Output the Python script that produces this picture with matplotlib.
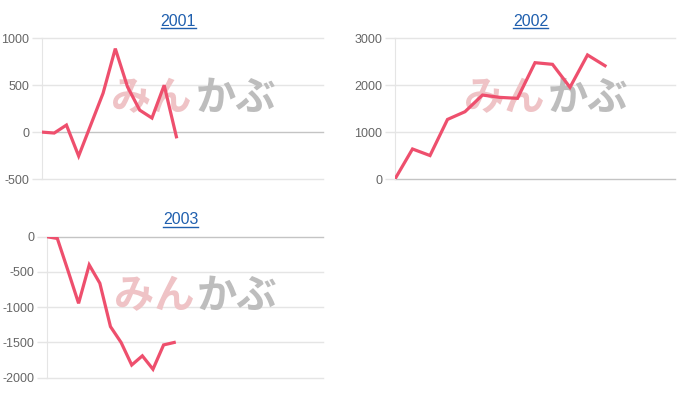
import matplotlib
matplotlib.use("Agg")
import matplotlib.pyplot as plt
from matplotlib.lines import Line2D

plt.rcParams['font.family'] = ['Liberation Sans', 'Noto Sans CJK JP', 'DejaVu Sans']

# data
years = ['2001', '2002', '2003']
values_2001 = [0, -10, 75, -255, 80, 415, 890, 482, 234, 150, 500, -50]
values_2002 = [0, 640, 500, 1270, 1435, 1790, 1740, 1720, 2480, 2445, 1955, 2645, 2415]
values_2003 = [0, -25, -480, -945, -400, -660, -1275, -1500, -1820, -1690, -1880, -1535, -1500]
ticks_2001 = [-500, 0, 500, 1000]
ticks_2002 = [0, 1000, 2000, 3000]
ticks_2003 = [-2000, -1500, -1000, -500, 0]
# number of category slots on each x axis
slots = [24, 17, 27]

line_color = '#ee4f6d'
grid_color = '#e5e5e5'
zero_color = '#c4c4c4'
label_color = '#666666'
title_color = '#1f5fae'

W, H = 700, 400
fig = plt.figure(figsize=(7, 4), dpi=100)
titles = []


def make_axes(left, right, top, bottom):
    return fig.add_axes([left / W, 1 - bottom / H, (right - left) / W, (bottom - top) / H])


def draw_panel(ax, title, values, ticks, n_slots):
    x = list(range(len(values)))
    ax.plot(x, values, color=line_color, lw=2.3, zorder=3, solid_joinstyle='miter')
    ax.set_xlim(0, n_slots - 1)
    ax.set_ylim(min(ticks), max(ticks))
    ax.set_yticks(ticks)
    ax.set_yticklabels([str(t) for t in ticks])
    ax.set_xticks([])
    for t in ticks:
        ax.axhline(t, color=zero_color if t == 0 else grid_color, lw=1, zorder=1,
                   clip_on=False)
    for s in ['top', 'right', 'bottom']:
        ax.spines[s].set_visible(False)
    ax.spines['left'].set_color(grid_color)
    ax.tick_params(axis='y', length=7.5, width=1, color=grid_color, pad=1.5,
                   labelsize=9, labelcolor=label_color)
    # title (drawn as a link: blue and underlined)
    t = ax.text(0.485, 1.09, title, transform=ax.transAxes, color=title_color,
                fontsize=11.5, ha='center', va='baseline')
    titles.append(t)
    # watermark logo
    ax.text(0.39, 0.575, 'みん', transform=ax.transAxes, fontsize=29,
            fontweight='bold', color='#efc3c6', ha='center', va='center',
            family='Noto Sans CJK JP', zorder=2)
    ax.text(0.69, 0.575, 'かぶ', transform=ax.transAxes, fontsize=29,
            fontweight='bold', color='#bdbdbd', ha='center', va='center',
            family='Noto Sans CJK JP', zorder=2)


ax1 = make_axes(42, 323, 38.3, 179)
ax2 = make_axes(395, 675, 38.3, 179)
ax3 = make_axes(46.7, 323, 236.7, 377.7)

draw_panel(ax1, years[0], values_2001, ticks_2001, slots[0])
draw_panel(ax2, years[1], values_2002, ticks_2002, slots[1])
draw_panel(ax3, years[2], values_2003, ticks_2003, slots[2])

# underline each title
fig.canvas.draw()
renderer = fig.canvas.get_renderer()
for t in titles:
    bb = t.get_window_extent(renderer)
    x0, x1 = bb.x0 / W, bb.x1 / W
    yb = t.get_transform().transform(t.get_position())[1] / H - 2.5 / H
    fig.add_artist(Line2D([x0, x1], [yb, yb], color=title_color, lw=1))

fig.savefig('out.png', dpi=100)
